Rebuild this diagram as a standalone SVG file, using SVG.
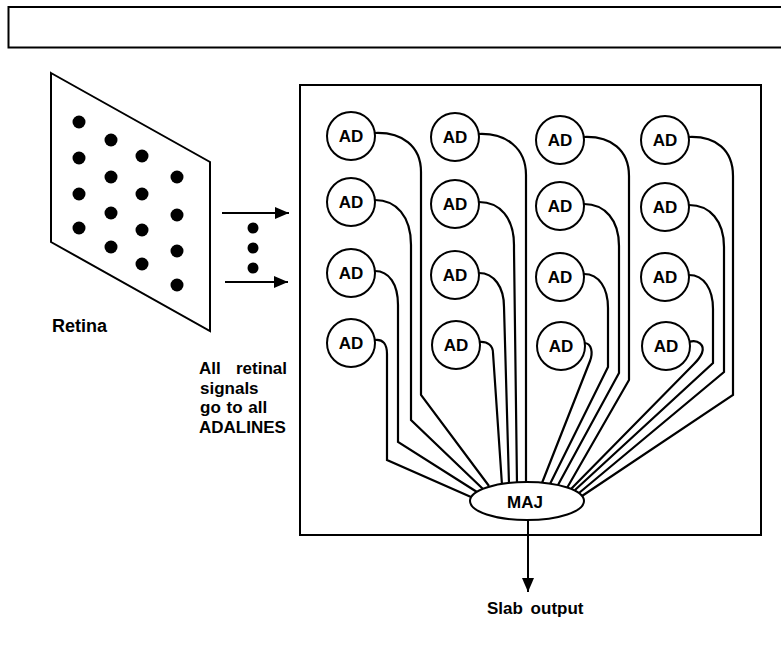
<svg xmlns="http://www.w3.org/2000/svg" width="781" height="652" viewBox="0 0 781 652">
<style>
.s{fill:none;stroke:#000;stroke-width:2}
.w{fill:none;stroke:#000;stroke-width:2.2;stroke-linejoin:miter}
.n{fill:#fff;stroke:#000;stroke-width:2}
.t{font-family:"Liberation Sans",Arial,sans-serif;font-size:17px;font-weight:bold;fill:#000}
.c{text-anchor:middle}
</style>
<defs>
<marker id="ah" viewBox="0 0 14 12" refX="14" refY="6" markerWidth="14" markerHeight="12" markerUnits="userSpaceOnUse" orient="auto"><path d="M0,0 L14,6 L0,12 z" fill="#000"/></marker>
</defs>
<rect x="0" y="0" width="781" height="652" fill="#fff"/>
<rect class="s" x="8.5" y="7" width="790" height="40.5"/>
<g id="retina">
<polygon class="s" points="51,73 210,162 210,331 51,242"/>
<g fill="#000">
<circle cx="79" cy="122" r="6.5"/><circle cx="79" cy="158" r="6.5"/><circle cx="79" cy="194" r="6.5"/><circle cx="79" cy="228" r="6.5"/>
<circle cx="111" cy="140" r="6.5"/><circle cx="111" cy="177" r="6.5"/><circle cx="111" cy="213" r="6.5"/><circle cx="111" cy="247" r="6.5"/>
<circle cx="142" cy="156" r="6.5"/><circle cx="142" cy="194" r="6.5"/><circle cx="142" cy="230" r="6.5"/><circle cx="142" cy="264" r="6.5"/>
<circle cx="177" cy="177" r="6.5"/><circle cx="177" cy="215" r="6.5"/><circle cx="177" cy="251" r="6.5"/><circle cx="177" cy="285" r="6.5"/>
</g>
<text class="t" x="52" y="332" style="font-size:18px">Retina</text>
</g>
<g id="inputs">
<line class="s" x1="222" y1="213" x2="289" y2="213" marker-end="url(#ah)"/>
<line class="s" x1="225" y1="282" x2="288" y2="282" marker-end="url(#ah)"/>
<circle cx="253" cy="228" r="5.5"/><circle cx="253" cy="248" r="5.5"/><circle cx="253" cy="268" r="5.5"/>
<text class="t" y="374"><tspan x="199">All</tspan><tspan x="287" text-anchor="end">retinal</tspan></text>
<text class="t" x="200" y="394">signals</text>
<text class="t" x="200" y="413" style="word-spacing:1px">go to all</text>
<text class="t" x="199" y="433">ADALINES</text>
</g>
<rect id="slab" class="s" x="300" y="85" width="461" height="450"/>
<g id="connectors">
<path class="w" d="M375,133 C402,132 421,146 421,172 L421,395 L489,486"/>
<path class="w" d="M375,200 C396,200 411,216 411,245 L411,420 L483,489"/>
<path class="w" d="M375,271 C389,271 398,284 398,305 L398,442 L477,492"/>
<path class="w" d="M375,340 C383,339 387,344 387,354 L387,460 L471,497"/>
<path class="w" d="M479,134 C506,133 526,148 526,175 L526,484"/>
<path class="w" d="M479,202 C500,202 514,218 514,245 L514,250 L517,484"/>
<path class="w" d="M479,273 C494,273 504,287 504,307 L509,484"/>
<path class="w" d="M479,342 C488,341 493,346 493,353 L502,485"/>
<path class="w" d="M584,137 C611,136 629,150 629,176 L629,380 L567,488"/>
<path class="w" d="M584,204 C605,204 619,220 619,246 L619,373 L558,485"/>
<path class="w" d="M584,274 C599,274 608,288 608,308 L608,367 L550,484"/>
<path class="w" d="M584,343 C592,343 593,353 590,361 L542,483"/>
<path class="w" d="M689,137 C716,136 733,150 733,176 L733,395 L582,496"/>
<path class="w" d="M689,205 C710,205 724,221 724,247 L724,372 L579,493"/>
<path class="w" d="M689,275 C704,275 713,289 713,309 L713,363 L575,490"/>
<path class="w" d="M689,342 C698,339 705,345 702,353 C700,358 697,361 694,364 L571,489"/>
<line class="s" x1="528" y1="520" x2="528" y2="592" marker-end="url(#ah)"/>
</g>
<g id="ad-1-1"><circle class="n" cx="351" cy="136" r="24"/><text class="t c" x="351" y="142">AD</text></g>
<g id="ad-1-2"><circle class="n" cx="351" cy="202" r="24"/><text class="t c" x="351" y="208">AD</text></g>
<g id="ad-1-3"><circle class="n" cx="351" cy="273" r="24"/><text class="t c" x="351" y="279">AD</text></g>
<g id="ad-1-4"><circle class="n" cx="351" cy="343" r="24"/><text class="t c" x="351" y="349">AD</text></g>
<g id="ad-2-1"><circle class="n" cx="455" cy="137" r="24"/><text class="t c" x="455" y="143">AD</text></g>
<g id="ad-2-2"><circle class="n" cx="455" cy="204" r="24"/><text class="t c" x="455" y="210">AD</text></g>
<g id="ad-2-3"><circle class="n" cx="455" cy="275" r="24"/><text class="t c" x="455" y="281">AD</text></g>
<g id="ad-2-4"><circle class="n" cx="456" cy="345" r="24"/><text class="t c" x="456" y="351">AD</text></g>
<g id="ad-3-1"><circle class="n" cx="560" cy="140" r="24"/><text class="t c" x="560" y="146">AD</text></g>
<g id="ad-3-2"><circle class="n" cx="560" cy="206" r="24"/><text class="t c" x="560" y="212">AD</text></g>
<g id="ad-3-3"><circle class="n" cx="560" cy="277" r="24"/><text class="t c" x="560" y="283">AD</text></g>
<g id="ad-3-4"><circle class="n" cx="561" cy="346" r="24"/><text class="t c" x="561" y="352">AD</text></g>
<g id="ad-4-1"><circle class="n" cx="665" cy="140" r="24"/><text class="t c" x="665" y="146">AD</text></g>
<g id="ad-4-2"><circle class="n" cx="665" cy="207" r="24"/><text class="t c" x="665" y="213">AD</text></g>
<g id="ad-4-3"><circle class="n" cx="665" cy="277" r="24"/><text class="t c" x="665" y="283">AD</text></g>
<g id="ad-4-4"><circle class="n" cx="666" cy="346" r="24"/><text class="t c" x="666" y="352">AD</text></g>
<g id="maj"><ellipse class="n" cx="527" cy="501" rx="57" ry="19"/><text class="t c" x="525" y="508">MAJ</text></g>
<text id="out" class="t" x="487" y="614" style="word-spacing:3px">Slab output</text>
</svg>
